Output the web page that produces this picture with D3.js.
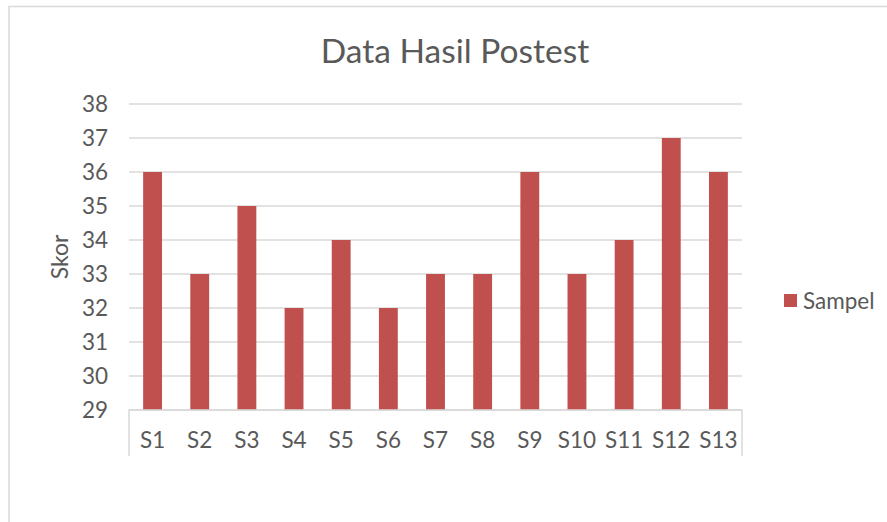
<!DOCTYPE html>
<html>
<head>
<meta charset="utf-8">
<script src="https://cdn.jsdelivr.net/npm/d3@7"></script>
<style>
  body { margin: 0; background: #fff; }
  svg { display: block; font-family: Lato, "Open Sans", sans-serif; }
</style>
</head>
<body>
<svg id="chart" width="887" height="522"></svg>
<script>
// data
const categories = ["S1", "S2", "S3", "S4", "S5", "S6", "S7", "S8", "S9", "S10", "S11", "S12", "S13"];
const skor = [36, 33, 35, 32, 34, 32, 33, 33, 36, 33, 34, 37, 36];
const yTicks = [29, 30, 31, 32, 33, 34, 35, 36, 37, 38];
const seriesName = "Sampel";
const title = "Data Hasil Postest";
const yTitle = "Skor";

const svg = d3.select("#chart");
const textColor = "#595959";
const gridColor = "#d9d9d9";
const barColor = "#c0504d";

// outer chart frame (only top and left edges are visible)
svg.append("path")
  .attr("d", "M9,530 V6.5 H900")
  .attr("fill", "none")
  .attr("stroke", gridColor)
  .attr("stroke-width", 1.5);

const plotLeft = 129, plotRight = 742, plotTop = 104, plotBottom = 410;

const x = d3.scaleBand()
  .domain(categories)
  .range([plotLeft, plotRight])
  .paddingInner(0.6)
  .paddingOuter(0.3);

const y = d3.scaleLinear()
  .domain([29, 38])
  .range([plotBottom, plotTop]);

// gridlines
svg.append("g")
  .selectAll("line")
  .data(yTicks)
  .join("line")
  .attr("x1", plotLeft)
  .attr("x2", plotRight)
  .attr("y1", d => y(d))
  .attr("y2", d => y(d))
  .attr("stroke", gridColor)
  .attr("stroke-width", 1.5);

// bars
svg.append("g")
  .selectAll("rect")
  .data(skor)
  .join("rect")
  .attr("x", (d, i) => x(categories[i]))
  .attr("width", x.bandwidth())
  .attr("y", d => y(d))
  .attr("height", d => y(29) - y(d))
  .attr("fill", barColor);

// category axis: baseline plus end separators
svg.append("path")
  .attr("d", `M${plotLeft},456 V${plotBottom} H${plotRight} V456`)
  .attr("fill", "none")
  .attr("stroke", gridColor)
  .attr("stroke-width", 1.5);

// category labels
svg.append("g")
  .selectAll("text")
  .data(categories)
  .join("text")
  .attr("x", d => x(d) + x.bandwidth() / 2)
  .attr("y", 440)
  .attr("dy", "0.35em")
  .attr("text-anchor", "middle")
  .attr("fill", textColor)
  .style("font-size", "22.5px")
  .text(d => d);

// value labels
svg.append("g")
  .selectAll("text")
  .data(yTicks)
  .join("text")
  .attr("x", 108)
  .attr("y", d => y(d))
  .attr("dy", "0.35em")
  .attr("text-anchor", "end")
  .attr("fill", textColor)
  .style("font-size", "22.5px")
  .text(d => d);

// axis title
svg.append("text")
  .attr("transform", "translate(68,257) rotate(-90)")
  .attr("text-anchor", "middle")
  .attr("fill", textColor)
  .style("font-size", "23px")
  .text(yTitle);

// chart title
svg.append("text")
  .attr("x", 455)
  .attr("y", 63)
  .attr("text-anchor", "middle")
  .attr("fill", textColor)
  .style("font-size", "33.5px")
  .text(title);

// legend
svg.append("rect")
  .attr("x", 784)
  .attr("y", 294)
  .attr("width", 13)
  .attr("height", 13)
  .attr("fill", barColor);

svg.append("text")
  .attr("x", 803)
  .attr("y", 301)
  .attr("dy", "0.35em")
  .attr("fill", textColor)
  .style("font-size", "22.5px")
  .text(seriesName);
</script>
</body>
</html>
